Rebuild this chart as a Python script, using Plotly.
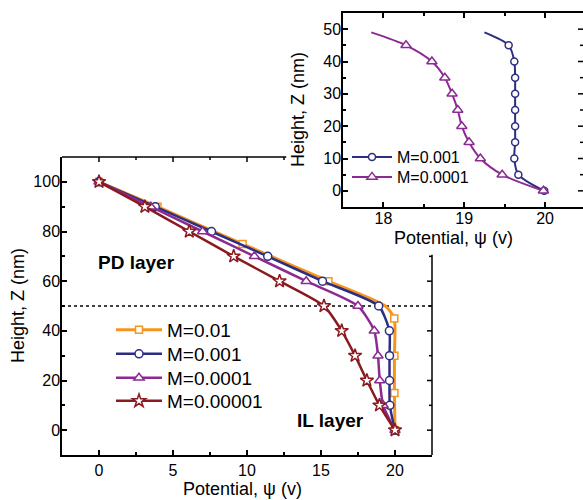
import plotly.graph_objects as go

W, H = 583, 500

# ---------------- data ----------------
series_names = ["M=0.01", "M=0.001", "M=0.0001", "M=0.00001"]

# main chart: marked points
y_m01 = [100, 90, 75, 60, 45, 30, 15, 0]
x_m01 = [0, 3.95, 9.7, 15.5, 19.95, 19.96, 19.96, 20.0]
y_m01_extra = [50]
x_m01_extra = [19.35]

y_main = [100, 90, 80, 70, 60, 50, 40, 30, 20, 10, 0]
x_m001 = [0, 3.8, 7.6, 11.4, 15.1, 18.9, 19.62, 19.63, 19.63, 19.65, 20.0]
x_m0001 = [0, 3.5, 7.0, 10.5, 14.0, 17.5, 18.6, 18.85, 18.97, 19.2, 20.0]
x_m00001 = [0, 3.1, 6.1, 9.1, 12.2, 15.2, 16.4, 17.3, 18.1, 18.95, 20.0]

# inset: marked points + curve start
inset_names = ["M=0.001", "M=0.0001"]
y_inset = [45, 40, 35, 30, 25, 20, 15, 10, 5, 0]
x_in_001 = [19.55, 19.62, 19.63, 19.63, 19.63, 19.63, 19.63, 19.62, 19.67, 19.99]
x_in_0001 = [18.28, 18.6, 18.76, 18.85, 18.92, 18.97, 19.06, 19.2, 19.47, 19.98]
y_in_start = [49]
x_in_001_start = [19.25]
x_in_0001_start = [17.85]

# ---------------- styles ----------------
C_OR = "#F7941E"
C_BL = "#2B2E83"
C_PU = "#8B2A92"
C_RD = "#8A1A1F"
FONT = "Arial, Liberation Sans, sans-serif"


def px_x(p):
    return p / W


def px_y(p):
    return 1 - p / H


def merged(xs, ys, xe, ye):
    pts = sorted(zip(ys + ye, xs + xe), key=lambda t: -t[0])
    return [p[1] for p in pts], [p[0] for p in pts]


fig = go.Figure()

main_specs = [
    (series_names[0], x_m01, y_m01, x_m01_extra, y_m01_extra, C_OR, "square", 7, 3),
    (series_names[1], x_m001, y_main, [], [], C_BL, "circle", 8, 2.5),
    (series_names[2], x_m0001, y_main, [], [], C_PU, "triangle-up", 9, 2.5),
    (series_names[3], x_m00001, y_main, [], [], C_RD, "star", 10, 2.5),
]

for i, (nm, xs, ys, xe, ye, col, sym, ms, lw) in enumerate(main_specs):
    lx, ly = merged(xs, ys, xe, ye)
    fig.add_trace(go.Scatter(x=lx, y=ly, mode="lines", showlegend=False,
                             line=dict(color=col, width=lw, shape="spline", smoothing=0.6),
                             xaxis="x", yaxis="y", hoverinfo="skip"))
    fig.add_trace(go.Scatter(x=xs, y=ys, mode="markers", showlegend=False,
                             marker=dict(symbol=sym, size=ms, color="white",
                                         line=dict(color=col, width=1.5)),
                             xaxis="x", yaxis="y"))
    fig.add_trace(go.Scatter(x=[None], y=[None], mode="lines+markers", name=nm,
                             legend="legend" if i == 0 else f"legend{i+1}",
                             line=dict(color=col, width=lw),
                             marker=dict(symbol=sym, size=ms, color="white",
                                         line=dict(color=col, width=1.5))))

inset_specs = [
    (inset_names[0], x_in_001, x_in_001_start, C_BL, "circle", 7),
    (inset_names[1], x_in_0001, x_in_0001_start, C_PU, "triangle-up", 9),
]
for j, (nm, xs, xst, col, sym, ms) in enumerate(inset_specs):
    lx, ly = merged(xs, y_inset, xst, y_in_start)
    fig.add_trace(go.Scatter(x=lx, y=ly, mode="lines", showlegend=False,
                             line=dict(color=col, width=2, shape="spline", smoothing=0.8),
                             xaxis="x2", yaxis="y2", hoverinfo="skip"))
    fig.add_trace(go.Scatter(x=xs, y=y_inset, mode="markers", showlegend=False,
                             marker=dict(symbol=sym, size=ms, color="white",
                                         line=dict(color=col, width=1.5)),
                             xaxis="x2", yaxis="y2"))
    fig.add_trace(go.Scatter(x=[None], y=[None], mode="lines+markers", name=nm,
                             legend=f"legend{5+j}", xaxis="x2", yaxis="y2",
                             line=dict(color=col, width=2),
                             marker=dict(symbol=sym, size=ms, color="white",
                                         line=dict(color=col, width=1.5))))

axis_common = dict(showline=True, linecolor="black", linewidth=1.5, showgrid=False,
                   zeroline=False, ticks="inside", tickcolor="black", tickwidth=1.5,
                   ticklen=5, tickfont=dict(family=FONT, size=16, color="black"),
                   automargin=False)

layout = dict(
    width=W, height=H,
    margin=dict(l=0, r=0, t=0, b=0),
    paper_bgcolor="white", plot_bgcolor="white",
    font=dict(family=FONT, color="black"),
    xaxis=dict(axis_common, domain=[px_x(62), px_x(432)], range=[-2.5, 22.5],
               dtick=5, tick0=0, anchor="y", mirror=False,
               minor=dict(ticks="inside", ticklen=3, dtick=2.5, tick0=0, tickcolor="black", tickwidth=1.5)),
    yaxis=dict(axis_common, domain=[px_y(455), px_y(157)], range=[-10, 110],
               dtick=20, tick0=0, anchor="x", mirror=False, ticklabelstandoff=-3,
               minor=dict(ticks="inside", ticklen=3, dtick=10, tick0=0, tickcolor="black", tickwidth=1.5)),
    xaxis2=dict(axis_common, domain=[px_x(343), 1.0], range=[17.5, 20.47],
                dtick=1, tick0=18, anchor="y2", mirror="ticks", ticklabelstandoff=-4,
                minor=dict(ticks="inside", ticklen=3, dtick=0.5, tick0=18, tickcolor="black", tickwidth=1.5)),
    yaxis2=dict(axis_common, domain=[px_y(207), px_y(13)], range=[-5, 55],
                dtick=10, tick0=0, anchor="x2", mirror=False, ticklabelstandoff=-3,
                minor=dict(ticks="inside", ticklen=3, dtick=5, tick0=0, tickcolor="black", tickwidth=1.5)),
)

leg_common = dict(bgcolor="rgba(0,0,0,0)", borderwidth=0, xanchor="left", yanchor="middle",
                  tracegroupgap=0)
main_rows = [330, 354, 378, 401]
for i, r in enumerate(main_rows):
    key = "legend" if i == 0 else f"legend{i+1}"
    layout[key] = dict(leg_common, x=px_x(111), y=px_y(r), itemwidth=46,
                       font=dict(family=FONT, size=19, color="black"))
inset_rows = [157, 177]
for j, r in enumerate(inset_rows):
    layout[f"legend{5+j}"] = dict(leg_common, x=px_x(347), y=px_y(r), itemwidth=40,
                                  font=dict(family=FONT, size=16, color="black"))

fig.update_layout(**layout)

# frame pieces of the main chart not hidden by the inset
shapes = []
shapes.append(dict(type="line", xref="x", yref="paper", x0=-2.5, x1=12.65,
                   y0=px_y(157), y1=px_y(157), line=dict(color="black", width=1.5)))
shapes.append(dict(type="line", xref="paper", yref="y", x0=px_x(432), x1=px_x(432),
                   y0=-10, y1=70.6, line=dict(color="black", width=1.5)))
for v in [0, 2.5, 5, 7.5, 10, 12.5]:
    ln = 5 if v % 5 == 0 else 3
    shapes.append(dict(type="line", xref="x", yref="paper", x0=v, x1=v,
                       y0=px_y(157), y1=px_y(157 + ln), line=dict(color="black", width=1.5)))
for v in [0, 10, 20, 30, 40, 50, 60, 70]:
    ln = 5 if v % 20 == 0 else 3
    shapes.append(dict(type="line", xref="paper", yref="y", x0=px_x(432), x1=px_x(432 - ln),
                       y0=v, y1=v, line=dict(color="black", width=1.5)))
# inset right-side ticks (its frame line is cut off by the picture edge)
for v in [0, 5, 10, 15, 20, 25, 30, 35, 40, 45, 50]:
    ln = 5 if v % 10 == 0 else 3
    shapes.append(dict(type="line", xref="paper", yref="y2", x0=px_x(W), x1=px_x(W - ln),
                       y0=v, y1=v, line=dict(color="black", width=1.5)))
# dotted boundary between layers
shapes.append(dict(type="line", xref="x", yref="y", x0=-2.5, x1=22.5, y0=50, y1=50,
                   layer="below", line=dict(color="black", width=1.3, dash="dot")))
fig.update_layout(shapes=shapes)

ann = [
    dict(text="Height, Z (nm)", x=px_x(18), y=px_y(306), textangle=-90, font=dict(size=18)),
    dict(text="Potential, \u03c8 (v)", x=px_x(242), y=px_y(489), font=dict(size=18)),
    dict(text="Height, Z (nm)", x=px_x(298), y=px_y(110), textangle=-90, font=dict(size=18)),
    dict(text="Potential, \u03c8 (v)", x=px_x(453), y=px_y(238), font=dict(size=18)),
    dict(text="<b>PD layer</b>", x=px_x(136), y=px_y(262), font=dict(size=19)),
    dict(text="<b>IL layer</b>", x=px_x(330), y=px_y(420), font=dict(size=19)),
]
for a in ann:
    a.update(xref="paper", yref="paper", showarrow=False, xanchor="center", yanchor="middle")
    a["font"] = dict(a["font"], family=FONT, color="black")
fig.update_layout(annotations=ann)

fig.write_html("out.html", config={"displayModeBar": False},
               post_script="document.body.style.margin='0px';document.body.style.overflow='hidden';")
